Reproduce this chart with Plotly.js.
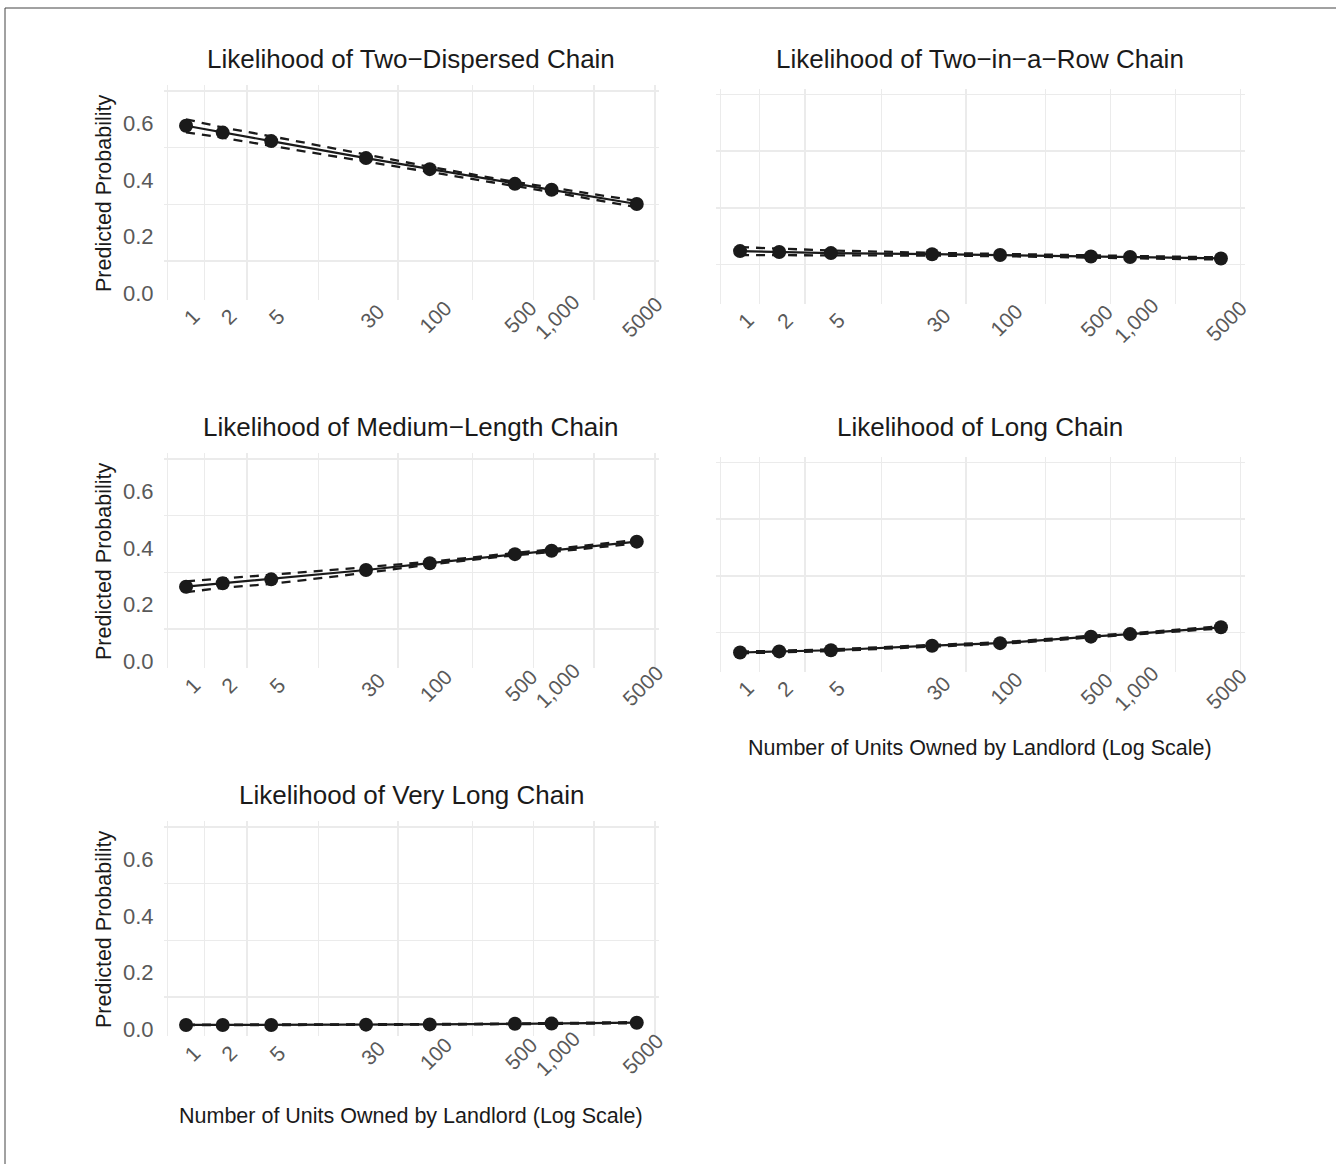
<!DOCTYPE html>
<html>
<head>
<meta charset="utf-8">
<script src="https://cdn.plot.ly/plotly-3.0.1.min.js"></script>
<style>
  html, body { margin: 0; padding: 0; background: #ffffff; }
  #chart { width: 1336px; height: 1164px; }
</style>
</head>
<body>
<div id="chart"></div>
<script>
// ---------------- data ----------------
const units = [1, 2, 5, 30, 100, 500, 1000, 5000];
const unitTickText = ['1', '2', '5', '30', '100', '500', '1,000', '5000'];
const yTickVals = [0, 0.2, 0.4, 0.6];
const yTickText = ['0.0', '0.2', '0.4', '0.6'];

const panelTitles = [
  'Likelihood of Two\u2212Dispersed Chain',
  'Likelihood of Two\u2212in\u2212a\u2212Row Chain',
  'Likelihood of Medium\u2212Length Chain',
  'Likelihood of Long Chain',
  'Likelihood of Very Long Chain'
];

const twoDispersed   = [0.577, 0.553, 0.523, 0.463, 0.424, 0.372, 0.351, 0.301];
const twoDispersedLo = [0.554, 0.535, 0.506, 0.451, 0.416, 0.365, 0.343, 0.290];
const twoDispersedHi = [0.600, 0.571, 0.540, 0.475, 0.432, 0.379, 0.359, 0.312];

const twoInRow   = [0.147, 0.144, 0.140, 0.136, 0.133, 0.128, 0.126, 0.121];
const twoInRowLo = [0.133, 0.133, 0.131, 0.131, 0.129, 0.125, 0.122, 0.117];
const twoInRowHi = [0.161, 0.155, 0.149, 0.141, 0.137, 0.131, 0.130, 0.125];

const mediumLength   = [0.249, 0.261, 0.275, 0.308, 0.332, 0.364, 0.376, 0.408];
const mediumLengthLo = [0.230, 0.245, 0.259, 0.298, 0.327, 0.360, 0.371, 0.402];
const mediumLengthHi = [0.268, 0.277, 0.291, 0.318, 0.337, 0.368, 0.381, 0.414];

const longChain   = [0.029, 0.033, 0.037, 0.053, 0.062, 0.085, 0.094, 0.118];
const longChainLo = [0.026, 0.030, 0.034, 0.050, 0.059, 0.082, 0.091, 0.114];
const longChainHi = [0.032, 0.036, 0.040, 0.056, 0.065, 0.088, 0.097, 0.122];

const veryLong   = [0.001, 0.001, 0.001, 0.002, 0.003, 0.005, 0.006, 0.009];
const veryLongLo = [0.000, 0.000, 0.000, 0.001, 0.002, 0.004, 0.005, 0.007];
const veryLongHi = [0.002, 0.002, 0.003, 0.003, 0.004, 0.006, 0.007, 0.011];

const xAxisTitle = 'Number of Units Owned by Landlord (Log Scale)';
const yAxisTitle = 'Predicted Probability';

// ---------------- layout geometry ----------------
const W = 1336, H = 1164;
const FONT = '"Liberation Sans", Arial, Helvetica, sans-serif';
const INK = '#1a1a1a';
const GREY = '#595959';
const GRID = '#ebebeb';

const colPx = [[163.5, 659.3], [716, 1245]];
const colShift = [0, 3.5];
const rowTop = [85, 453, 821];
const panelH = 215;
const xRangeLog = [-0.185, 3.884];
const yRange = [-0.038, 0.721];

// ggplot-style minor breaks (midpoints between log-scale breaks)
const majLog = units.map(v => Math.log10(v));
const extLog = [majLog[0] - (majLog[1] - majLog[0])].concat(majLog, [majLog[majLog.length - 1] + (majLog[1] - majLog[0])]);
const minorX = [];
for (let i = 0; i < extLog.length - 1; i++) minorX.push(Math.pow(10, (extLog[i] + extLog[i + 1]) / 2));
const minorY = [0.1, 0.3, 0.5, 0.7];

const panels = [
  {est: twoDispersed, lo: twoDispersedLo, hi: twoDispersedHi, col: 0, row: 0, yTitle: true, xTitle: false},
  {est: twoInRow, lo: twoInRowLo, hi: twoInRowHi, col: 1, row: 0, yTitle: false, xTitle: false},
  {est: mediumLength, lo: mediumLengthLo, hi: mediumLengthHi, col: 0, row: 1, yTitle: true, xTitle: false},
  {est: longChain, lo: longChainLo, hi: longChainHi, col: 1, row: 1, yTitle: false, xTitle: true},
  {est: veryLong, lo: veryLongLo, hi: veryLongHi, col: 0, row: 2, yTitle: true, xTitle: true}
];

const data = [];
const layout = {
  width: W, height: H,
  margin: {l: 0, r: 0, t: 0, b: 0, pad: 0},
  paper_bgcolor: '#ffffff',
  plot_bgcolor: '#ffffff',
  showlegend: false,
  hovermode: false,
  font: {family: FONT, color: INK},
  annotations: [],
  shapes: [
    {type: 'line', xref: 'paper', yref: 'paper', x0: 5 / W, x1: 1.01, y0: 1 - 8 / H, y1: 1 - 8 / H, line: {color: '#444', width: 1}},
    {type: 'line', xref: 'paper', yref: 'paper', x0: 5 / W, x1: 5 / W, y0: 1 - 8 / H, y1: -0.01, line: {color: '#444', width: 1}}
  ]
};

panels.forEach((p, i) => {
  const n = i + 1;
  const xa = 'x' + (n === 1 ? '' : n);
  const ya = 'y' + (n === 1 ? '' : n);
  const xKey = 'xaxis' + (n === 1 ? '' : n);
  const yKey = 'yaxis' + (n === 1 ? '' : n);
  const [xl, xr] = colPx[p.col];
  const top = rowTop[p.row] + colShift[p.col], bot = top + panelH;
  const titleTop = rowTop[p.row];

  layout[xKey] = {
    type: 'log',
    domain: [xl / W, xr / W],
    range: xRangeLog,
    anchor: ya,
    tickmode: 'array', tickvals: units, ticktext: unitTickText,
    showticklabels: false, ticks: '',
    showgrid: false, zeroline: false, showline: false,
    minor: {tickmode: 'array', tickvals: minorX, showgrid: true, gridcolor: GRID, gridwidth: 1.5, ticks: ''},
    fixedrange: true
  };
  layout[yKey] = {
    domain: [1 - bot / H, 1 - top / H],
    range: yRange,
    anchor: xa,
    tickmode: 'array', tickvals: yTickVals, ticktext: yTickText,
    showticklabels: p.col === 0,
    ticks: '',
    ticklabelstandoff: 9,
    ticklabelshift: 4,
    tickfont: {family: FONT, size: 22, color: GREY},
    showgrid: false, zeroline: false, showline: false,
    minor: {tickmode: 'array', tickvals: minorY, showgrid: true, gridcolor: GRID, gridwidth: 1.5, ticks: ''},
    fixedrange: true
  };

  // confidence bounds (dashed)
  [p.lo, p.hi].forEach(arr => {
    data.push({
      type: 'scatter', mode: 'lines', x: units, y: arr, xaxis: xa, yaxis: ya,
      line: {color: INK, width: 2.3, dash: '9px,7px'}, hoverinfo: 'skip'
    });
  });
  // estimate
  data.push({
    type: 'scatter', mode: 'lines+markers', x: units, y: p.est, xaxis: xa, yaxis: ya,
    line: {color: INK, width: 2.2},
    marker: {color: INK, size: 14},
    hoverinfo: 'skip'
  });

  // panel title
  layout.annotations.push({
    xref: 'paper', yref: 'paper', x: ((xl + xr) / 2) / W, y: 1 - (titleTop - 26) / H,
    xanchor: 'center', yanchor: 'middle', showarrow: false,
    text: panelTitles[i], font: {family: FONT, size: 26, color: INK}
  });

  // rotated x tick labels (centred, ggplot-style)
  units.forEach((u, k) => {
    layout.annotations.push({
      xref: xa, yref: 'paper', x: Math.log10(u), y: 1 - (bot + 17) / H,
      xanchor: 'center', yanchor: 'middle', xshift: 6, showarrow: false,
      textangle: -45, text: unitTickText[k],
      font: {family: FONT, size: 21, color: GREY}
    });
  });

  if (p.yTitle) {
    layout.annotations.push({
      xref: 'paper', yref: 'paper', x: 104 / W, y: 1 - (top + 109) / H,
      xanchor: 'center', yanchor: 'middle', showarrow: false, textangle: -90,
      text: yAxisTitle, font: {family: FONT, size: 21.5, color: INK}
    });
  }
  if (p.xTitle) {
    layout.annotations.push({
      xref: 'paper', yref: 'paper', x: ((xl + xr) / 2) / W, y: 1 - (titleTop + panelH + 80) / H,
      xanchor: 'center', yanchor: 'middle', showarrow: false,
      text: xAxisTitle, font: {family: FONT, size: 21.5, color: INK}
    });
  }
});

Plotly.newPlot('chart', data, layout, {staticPlot: true, displayModeBar: false});
</script>
</body>
</html>
